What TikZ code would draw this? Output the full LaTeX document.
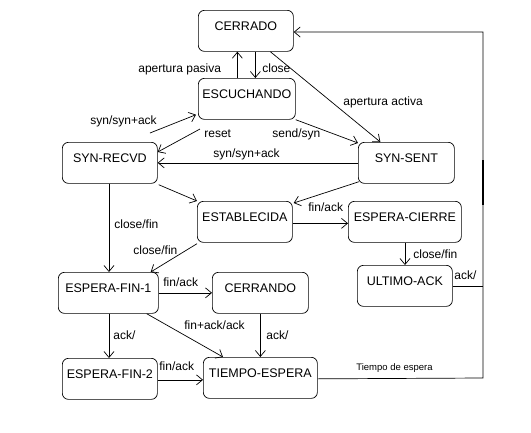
\documentclass[tikz,border=0pt]{standalone}
\usepackage{fontspec}
\setmainfont{Liberation Sans}
\usetikzlibrary{arrows.meta,calc}
\begin{document}
\begin{tikzpicture}[x=1pt,y=-1pt,
  line width=0.7pt,
  state/.style={draw, rounded corners=6pt, anchor=north west, inner xsep=0pt, inner ysep=0pt,
    text height=20pt, text depth=21pt, font=\fontsize{12.5}{14}\selectfont},
  lbl/.style={anchor=base west, inner sep=0pt, font=\fontsize{12}{14}\selectfont},
  small/.style={anchor=base west, inner sep=0pt, font=\fontsize{9.5}{11}\selectfont},
  arr/.style={-{Straight Barb[length=6pt,width=10pt]}}]
\useasboundingbox (0,0) rectangle (531,432);
% states
\node[state, minimum width=95pt] (cer) at (198,10) {CERRADO};
\node[state, minimum width=97pt] (esc) at (198,78) {ESCUCHANDO};
\node[state, minimum width=95pt] (sr) at (62,142) {SYN-RECVD};
\node[state, minimum width=96pt] (ss) at (358,142) {SYN-SENT};
\node[state, minimum width=95pt] (est) at (197,201) {ESTABLECIDA};
\node[state, minimum width=113pt] (ec) at (348,201) {ESPERA-CIERRE};
\node[state, minimum width=95pt] (ua) at (357,265) {ULTIMO-ACK};
\node[state, minimum width=100pt] (ef1) at (58,272) {ESPERA-FIN-1};
\node[state, minimum width=96pt] (cdo) at (212,272) {CERRANDO};
\node[state, minimum width=95pt] (ef2) at (62,358) {ESPERA-FIN-2};
\node[state, minimum width=114pt] (te) at (203,357) {TIEMPO-ESPERA};
% connectors
\draw[arr] ($(esc.north)+(-9.5,0)$) coordinate (p1) -- (p1 |- cer.south);
\draw[arr] ($(cer.south)+(9.5,0)$) coordinate (p2) -- (p2 |- esc.north);
\draw[arr] ($(cer.south)+(24.5,0)$) -- ($(ss.north)+(-26,0)$);
\coordinate (s1) at (150,133);
\draw[arr] (s1) -- ($(esc.south west)+(-2,-5)$);
\coordinate (r1) at (200,129);
\draw[arr] (r1) -- ($(sr.north east)+(0,10)$);
\draw[arr] (esc.south east) -- ($(ss.north west)+(0,1)$);
\draw[arr] (ss.west) -- (sr.east);
\draw[arr] ($(sr.south east)+(1,1)$) -- ($(est.north west)+(0,0)$);
\draw[arr] ($(ss.south west)+(1,-2)$) -- ($(est.north east)+(1,2)$);
\draw[arr] ($(est.east)+(0,1.5)$) coordinate (p3) -- (p3 -| ec.west);
\draw[arr] (ec.south -| 405,0) coordinate (p4) -- (p4 |- ua.north);
\draw[arr] (sr.south -| 109,0) coordinate (p5) -- (p5 |- ef1.north);
\draw[arr] ($(est.south west)+(0,1)$) -- ($(ef1.north east)+(-8,0)$);
\draw[arr] (ef1.east) -- (ef1.east -| cdo.west);
\draw[arr] ($(ef1.south east)+(-12,0)$) -- ($(te.north west)+(20,0)$);
\draw[arr] (ef1.south -| 109,0) coordinate (p6) -- (p6 |- ef2.north);
\draw[arr] (cdo.south) -- (cdo.south |- te.north);
\draw[arr] ($(ef2.east)+(0,1)$) coordinate (p7) -- (p7 -| te.west);
\coordinate (c1) at (483,378);
\coordinate (c2) at (483,32);
\draw[arr] ($(te.east)+(0,1)$) -- (c1) -- (c2) -- (c2 -| cer.east);
\draw (ua.east) -- (ua.east -| c1);
\draw[line width=2pt] (483,160) -- (483,205);
% labels
\node[lbl] (l1) at (138,72) {apertura pasiva};
\node[lbl] (l2) at (262,72) {close};
\node[lbl] (l3) at (343,105) {apertura activa};
\node[lbl] (l4) at (90,124) {syn/syn+ack};
\node[lbl] (l5) at (204,137) {reset};
\node[lbl] (l6) at (272,137) {send/syn};
\node[lbl] (l7) at (213,157) {syn/syn+ack};
\node[lbl] (l8) at (114,228) {close/fin};
\node[lbl] (l9) at (308,211) {fin/ack};
\node[lbl] (l10) at (413,258) {close/fin};
\node[lbl] (l11) at (454,279) {ack/};
\node[lbl] (l12) at (133,254) {close/fin};
\node[lbl] (l13) at (163,286) {fin/ack};
\node[lbl] (l14) at (184,329) {fin+ack/ack};
\node[lbl] (l15) at (113,339) {ack/};
\node[lbl] (l16) at (266,339) {ack/};
\node[lbl] (l17) at (159,370) {fin/ack};
\node[small] (l18) at (356,370) {Tiempo de espera};
\end{tikzpicture}
\end{document}
